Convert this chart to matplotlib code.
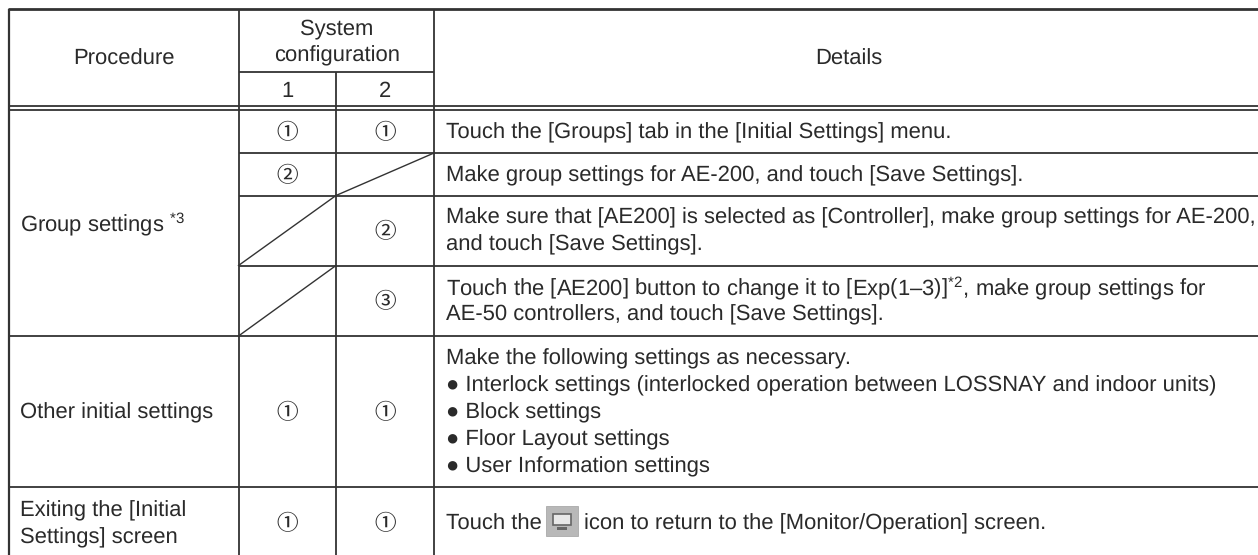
import matplotlib
matplotlib.use("Agg")
import matplotlib.pyplot as plt
from matplotlib.patches import Rectangle

plt.rcParams['font.family'] = ['Liberation Sans', 'Noto Sans CJK JP', 'DejaVu Sans']
plt.rcParams['mathtext.fontset'] = 'custom'
plt.rcParams['mathtext.rm'] = 'Liberation Sans'
plt.rcParams['mathtext.default'] = 'regular'
plt.rcParams['text.hinting'] = 'no_hinting'
plt.rcParams['text.hinting_factor'] = 1

# ---- table content ----
header_procedure = "Procedure"
header_system = "System\nconfiguration"
header_details = "Details"
config_labels = ["1", "2"]
procedures = ["Group settings $^{*3}$", "Other initial settings", "Exiting the [Initial\nSettings] screen"]
col1_steps = ["①", "②", "", "", "①", "①"]
col2_steps = ["①", "", "②", "③", "①", "①"]
details = [
    ["Touch the [Groups] tab in the [Initial Settings] menu."],
    ["Make group settings for AE-200, and touch [Save Settings]."],
    ["Make sure that [AE200] is selected as [Controller], make group settings for AE-200,",
     "and touch [Save Settings]."],
    ["Touch the [AE200] button to change it to [Exp(1–3)]$^{*2}$, make group settings for",
     "AE-50 controllers, and touch [Save Settings]."],
    ["Make the following settings as necessary.",
     "● Interlock settings (interlocked operation between LOSSNAY and indoor units)",
     "● Block settings",
     "● Floor Layout settings",
     "● User Information settings"],
    ["Touch the"],
]
icon_tail = "icon to return to the [Monitor/Operation] screen."

# ---- layout (pixels) ----
W, H = 1258, 555
X_LEFT, X_C1, X_C2, X_C3, X_RIGHT = 8.5, 238.5, 336, 434, 1258
Y_TOP, Y_SUB, Y_DBL1, Y_DBL2 = 9, 71.5, 106, 110
ROWS = [110, 153, 195.5, 265.5, 336, 486.5, 555]
INK = "#333333"
TXT = "#2a2a2a"
FS = 15.8
LW = 1.3

fig = plt.figure(figsize=(W / 100, H / 100), dpi=100, facecolor="white")
ax = fig.add_axes([0, 0, 1, 1])
ax.set_xlim(0, W)
ax.set_ylim(H, 0)
ax.axis("off")

def hline(y, x0=X_LEFT, x1=X_RIGHT, lw=LW):
    ax.plot([x0, x1], [y, y], color=INK, lw=lw, solid_capstyle="butt")

def vline(x, y0=Y_TOP, y1=H, lw=LW):
    ax.plot([x, x], [y0, y1], color=INK, lw=lw, solid_capstyle="butt")

hline(Y_TOP, 7.5, X_RIGHT, lw=2.0)
hline(Y_SUB, X_C1, X_C3)
hline(Y_DBL1)
hline(Y_DBL2)
for i, y in enumerate(ROWS[1:-1]):
    hline(y, X_C1 if i < 3 else X_LEFT)
vline(X_LEFT, lw=1.6)
vline(X_C1)
vline(X_C2, Y_SUB, H)
vline(X_C3)

# diagonals in the not-applicable cells
ax.plot([X_C2, X_C3], [ROWS[2], ROWS[1]], color=INK, lw=1.0)
ax.plot([X_C1, X_C2], [ROWS[3], ROWS[2]], color=INK, lw=1.0)
ax.plot([X_C1, X_C2], [ROWS[4], ROWS[3]], color=INK, lw=1.0)

def txt(x, y, s, ha="center", fs=FS):
    ax.text(x, y, s, ha=ha, va="center", fontsize=fs, color=TXT, linespacing=1.38)

XC1 = 287
XC2 = 385
txt(124, 59, header_procedure)
txt(337, 42, header_system)
txt(849, 59, header_details)
txt(XC1, 91, config_labels[0])
txt(XC2, 91, config_labels[1])

txt(20, 224, procedures[0], ha="left")
txt(20, 413, procedures[1], ha="left")
txt(20, 524, procedures[2], ha="left")

centres = [132.5, 175.5, 231.5, 301.5, 413, 524]
line_h = 27
for yc, a, b, d in zip(centres, col1_steps, col2_steps, details):
    if a:
        txt(XC1, yc + 0.5, a, fs=15.5)
    if b:
        txt(XC2, yc + 0.5, b, fs=15.5)
    n = len(d)
    for k, line in enumerate(d):
        txt(446, yc + (k - (n - 1) / 2) * line_h, line, ha="left")
txt(584, centres[-1], icon_tail, ha="left")

# monitor icon in the last row
ax.add_patch(Rectangle((546, 506), 32, 30, fc="#b8b8b8", ec="#a0a0a0", lw=0.5, zorder=3))
ax.add_patch(Rectangle((553, 514), 18, 11, fc="#e8e8e8", ec="#666666", lw=1.2, zorder=4))
ax.add_patch(Rectangle((557, 527), 10, 2.5, fc="#666666", ec="none", zorder=4))

fig.savefig("out.png", dpi=100, facecolor="white")
